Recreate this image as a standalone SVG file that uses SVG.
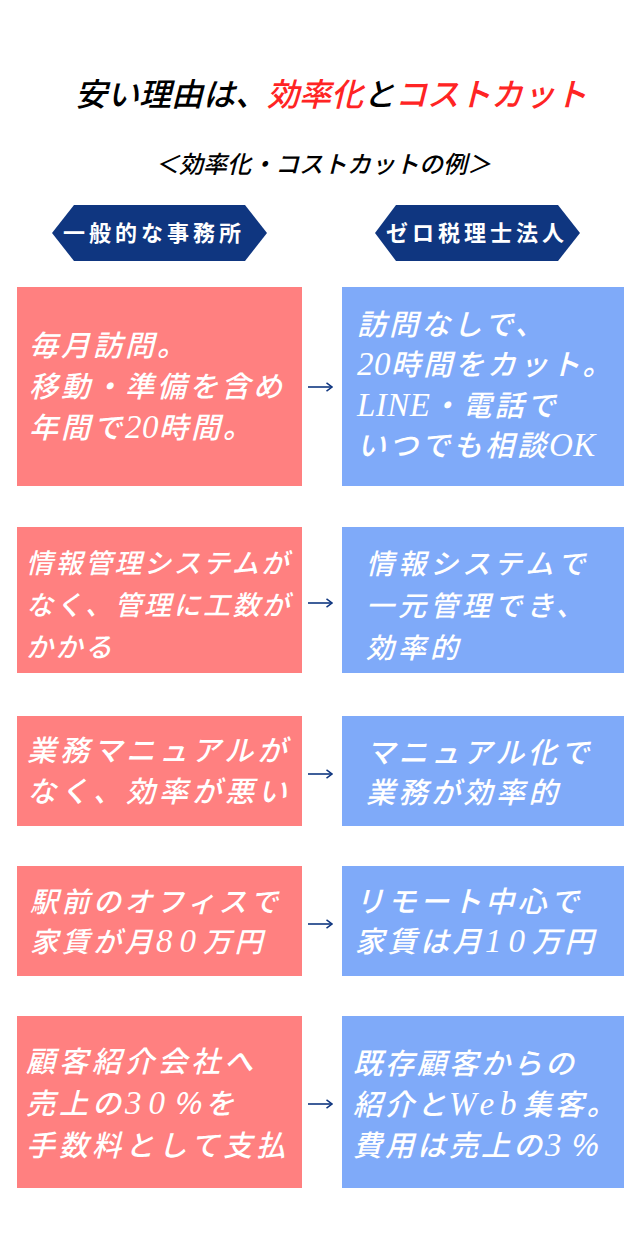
<svg xmlns="http://www.w3.org/2000/svg" width="640" height="1239" viewBox="0 0 640 1239">
<style>
.t{font-family:"Liberation Serif","Noto Sans CJK JP",serif;font-style:italic;font-weight:500}
.w{fill:#fff}
.bl{fill:#ff8080}
.br{fill:#7faaf9}
.hx{fill:#0f3680}
.ht{font-family:"Liberation Serif","Noto Sans CJK JP",serif;font-weight:700;font-size:22px;letter-spacing:4px;fill:#fff}
.red{fill:#ff2424}
.L{font-size:33px;letter-spacing:0.5px}
.d{font-size:33px;letter-spacing:7px}
.wb{font-size:33px;letter-spacing:6px}
.arr{stroke:#0f3680;stroke-width:1.6;fill:none}
</style>
<defs>
<marker id="ah" viewBox="0 0 7 10" refX="6" refY="5" markerWidth="7" markerHeight="10" markerUnits="userSpaceOnUse" orient="auto">
<path d="M0.5,0.8 L6,5 L0.5,9.2" fill="none" stroke="#0f3680" stroke-width="1.5"/>
</marker>
</defs>
<rect width="640" height="1239" fill="#fff"/>
<g id="title">
<text class="t" x="75" y="106" font-size="32" fill="#000">安い理由は、<tspan class="red">効率化</tspan>と<tspan class="red">コストカット</tspan></text>
</g>
<g id="subtitle">
<text class="t" x="155" y="173" font-size="24" letter-spacing="0" fill="#000">＜効率化・コストカットの例＞</text>
</g>
<g id="header-left">
<polygon class="hx" points="52,233 74,205 245,205 267,233 245,261 74,261"/>
<text class="ht" x="63" y="241">一般的な事務所</text>
</g>
<g id="header-right">
<polygon class="hx" points="375,233 396,205 558,205 580,233 558,261 396,261"/>
<text class="ht" x="386" y="241">ゼロ税理士法人</text>
</g>
<g id="row1-left">
<rect class="bl" x="17" y="287" width="285" height="199"/>
<text class="t w" font-size="29" letter-spacing="3"><tspan x="29" y="356">毎月訪問。</tspan><tspan x="29" y="397">移動・準備を含め</tspan><tspan x="29" y="438">年間で<tspan class="L">20</tspan>時間。</tspan></text>
</g>
<g id="row1-right">
<rect class="br" x="342" y="287" width="282" height="199"/>
<text class="t w" font-size="29" letter-spacing="3"><tspan x="357" y="335">訪問なしで、</tspan><tspan x="357" y="375"><tspan class="L">20</tspan>時間をカット。</tspan><tspan x="357" y="416"><tspan class="L">LINE</tspan>・電話で</tspan><tspan x="357" y="456">いつでも相談<tspan class="L">OK</tspan></tspan></text>
</g>
<g id="row2-left">
<rect class="bl" x="17" y="527" width="285" height="146"/>
<text class="t w" font-size="27" letter-spacing="2.5"><tspan x="26" y="573">情報管理システムが</tspan><tspan x="26" y="615">なく、管理に工数が</tspan><tspan x="26" y="657">かかる</tspan></text>
</g>
<g id="row2-right">
<rect class="br" x="342" y="527" width="282" height="146"/>
<text class="t w" font-size="28" letter-spacing="4"><tspan x="366" y="574">情報システムで</tspan><tspan x="366" y="616">一元管理でき、</tspan><tspan x="366" y="658">効率的</tspan></text>
</g>
<g id="row3-left">
<rect class="bl" x="17" y="716" width="285" height="110"/>
<text class="t w" font-size="29" letter-spacing="4"><tspan x="27" y="761">業務マニュアルが</tspan><tspan x="27" y="802">なく、効率が悪い</tspan></text>
</g>
<g id="row3-right">
<rect class="br" x="342" y="716" width="282" height="110"/>
<text class="t w" font-size="29" letter-spacing="3.5"><tspan x="366" y="763">マニュアル化で</tspan><tspan x="366" y="803">業務が効率的</tspan></text>
</g>
<g id="row4-left">
<rect class="bl" x="17" y="866" width="285" height="110"/>
<text class="t w" font-size="28" letter-spacing="3.5"><tspan x="30" y="912">駅前のオフィスで</tspan><tspan x="30" y="952">家賃が月<tspan class="d">80</tspan>万円</tspan></text>
</g>
<g id="row4-right">
<rect class="br" x="342" y="866" width="282" height="110"/>
<text class="t w" font-size="29" letter-spacing="3.5"><tspan x="355" y="912">リモート中心で</tspan><tspan x="355" y="952">家賃は月<tspan class="d">10</tspan>万円</tspan></text>
</g>
<g id="row5-left">
<rect class="bl" x="17" y="1016" width="285" height="172"/>
<text class="t w" font-size="29" letter-spacing="4"><tspan x="26" y="1072">顧客紹介会社へ</tspan><tspan x="26" y="1114">売上の<tspan class="d">30</tspan>％を</tspan><tspan x="26" y="1156">手数料として支払</tspan></text>
</g>
<g id="row5-right">
<rect class="br" x="342" y="1016" width="282" height="172"/>
<text class="t w" font-size="29" letter-spacing="3"><tspan x="353" y="1074">既存顧客からの</tspan><tspan x="353" y="1115">紹介と<tspan class="wb">Web</tspan>集客。</tspan><tspan x="353" y="1156">費用は売上の<tspan class="d">3</tspan>％</tspan></text>
</g>
<g id="connectors">
<path class="arr" d="M308,387 H332" marker-end="url(#ah)"/>
<path class="arr" d="M308,603 H332" marker-end="url(#ah)"/>
<path class="arr" d="M308,774 H332" marker-end="url(#ah)"/>
<path class="arr" d="M308,924 H332" marker-end="url(#ah)"/>
<path class="arr" d="M308,1104 H332" marker-end="url(#ah)"/>
</g>
</svg>
